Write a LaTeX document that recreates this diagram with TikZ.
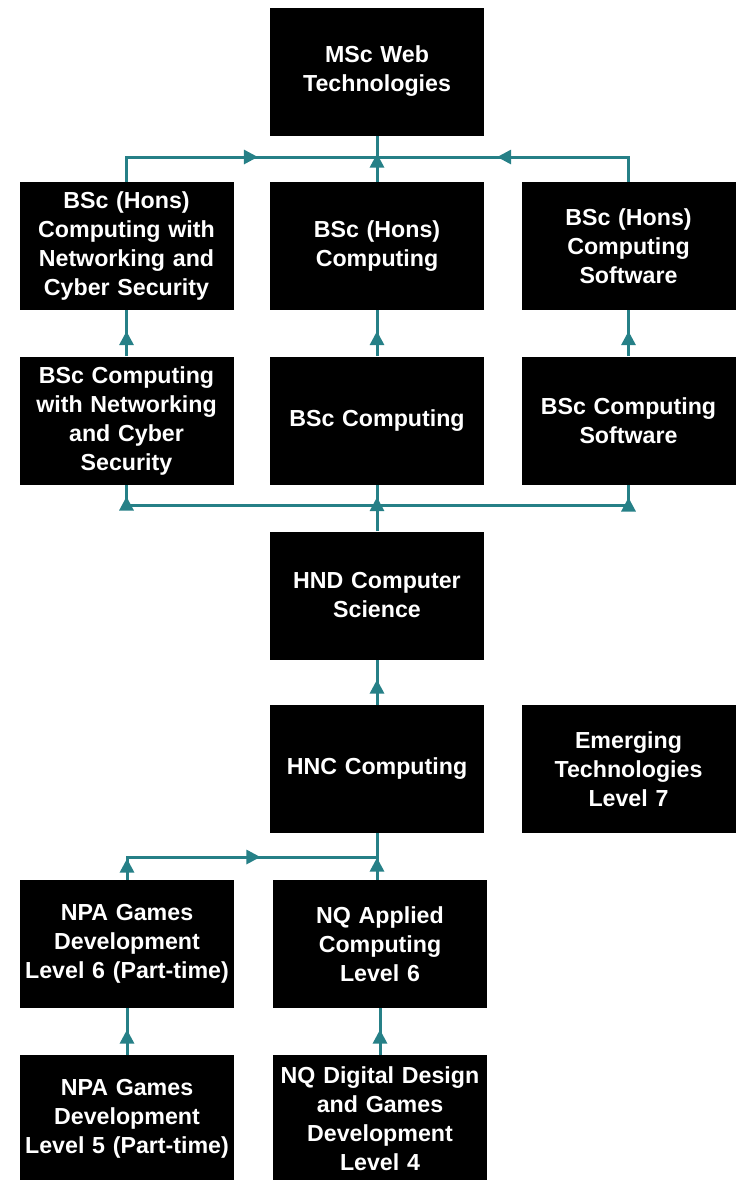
\documentclass[tikz,border=0pt]{standalone}
\usepackage{fontspec}
\setmainfont{Liberation Sans}
\usepackage{tikz}
\usetikzlibrary{arrows.meta,decorations.markings}
\definecolor{PathTeal}{RGB}{38,128,135}

\begin{document}
\begin{tikzpicture}[x=0.5pt, y=-0.5pt,
										course/.style={fill=black, text=white, align=center, inner sep=0pt,
											text width=107pt, minimum height=64pt,
											font=\bfseries\fontsize{11.6}{14.5}\selectfont},
										link/.style={draw=PathTeal, line width=1.5pt},
										tipat/.style={postaction={decorate, decoration={markings,
											mark=at position #1 with {\arrow[PathTeal]{Triangle[width=7pt,length=7pt]}}}}}]

		\useasboundingbox (0,0) rectangle (744,1180);

		\node [course] (msc) at (377,71.5) {MSc Web\\Technologies};

		\node [course] (honsnet) at (126.5,246) {BSc (Hons)\\Computing with\\Networking and\\Cyber Security};
		\node [course] (honscomp) at (377,246) {BSc (Hons)\\Computing};
		\node [course] (honssoft) at (628.5,246) {BSc (Hons)\\Computing\\Software};

		\node [course] (bscnet) at (126.5,420.5) {BSc Computing\\with Networking\\and Cyber\\Security};
		\node [course] (bsccomp) at (377,420.5) {BSc Computing};
		\node [course] (bscsoft) at (628.5,420.5) {BSc Computing\\Software};

		\node [course] (hnd) at (377,595.5) {HND Computer\\Science};

		\node [course] (hnc) at (377,769) {HNC Computing};
		\node [course] (emerging) at (628.5,769) {Emerging\\Technologies\\Level 7};

		\node [course] (npasix) at (127,944) {NPA Games\\Development\\Level 6 (Part-time)};
		\node [course] (nqapplied) at (380,944) {NQ Applied\\Computing\\Level 6};

		\node [course] (npafive) at (127,1119) {NPA Games\\Development\\Level 5 (Part-time)};
		\node [course] (nqdigital) at (380,1119) {NQ Digital Design\\and Games\\Development\\Level 4};

		\coordinate (jtop) at (377,157);
		\coordinate (jmid) at (377,505);
		\coordinate (jlow) at (377,857);

		% honours degrees to the masters
		\draw [link, tipat=78pt] (honsnet.north) |- (jtop);
		\draw [link, tipat=78pt] (honssoft.north) |- (jtop);
		\draw [link, tipat=14pt] (honscomp.north) -- (msc.south);

		% ordinary degrees to honours
		\draw [link, tipat=12.5pt] (bscnet.north) -- (honsnet.south);
		\draw [link, tipat=12.5pt] (bsccomp.north) -- (honscomp.south);
		\draw [link, tipat=12.5pt] (bscsoft.north) -- (honssoft.south);

		% HND to the degrees
		\draw [link, tipat=17pt] (hnd.north) -- (bsccomp.south);
		\draw [link, tipat=129.5pt] (jmid) -| (bscnet.south);
		\draw [link, tipat=129.5pt] (jmid) -| (bscsoft.south);

		\draw [link, tipat=12.5pt] (hnc.north) -- (hnd.south);

		% entry courses
		\draw [link, tipat=11pt] (nqapplied.north -| hnc.south) -- (hnc.south);
		\draw [link, tipat=10.5pt, tipat=78pt] (npasix.north) |- (jlow);
		\draw [link, tipat=12.5pt] (npafive.north) -- (npasix.south);
		\draw [link, tipat=12.5pt] (nqdigital.north) -- (nqapplied.south);

\end{tikzpicture}
\end{document}
